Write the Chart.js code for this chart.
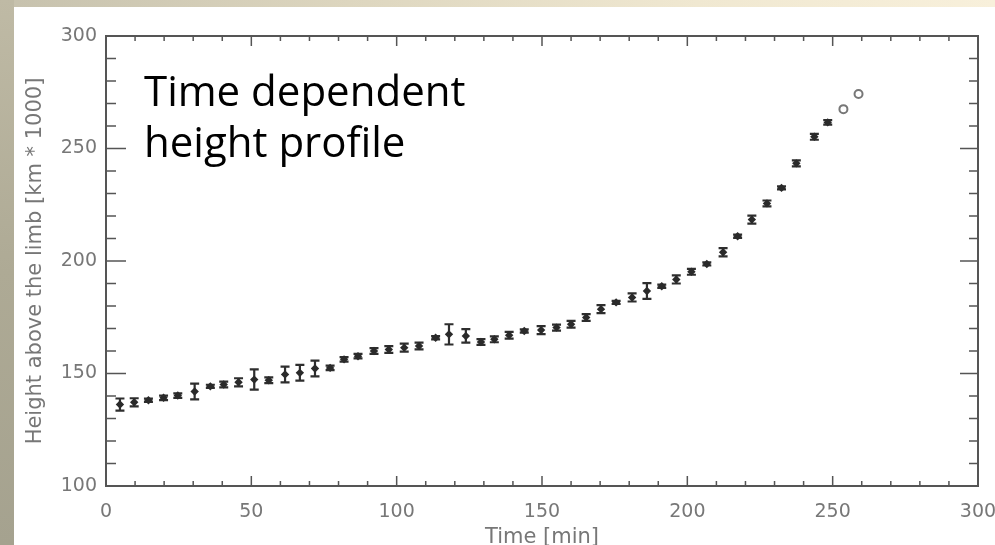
<!DOCTYPE html>
<html><head><meta charset="utf-8">
<script src="https://cdn.jsdelivr.net/npm/chart.js@4.4.1/dist/chart.umd.min.js"></script>
<style>
html,body{margin:0;padding:0;width:995px;height:545px;overflow:hidden;}
body{position:relative;background:linear-gradient(to right,#c6c1ad 0%,#ddd6bf 35%,#f0e8d1 70%,#f8f0db 100%);}
#leftstrip{position:absolute;left:0;top:0;width:14px;height:545px;background:linear-gradient(to bottom,#bfbaa5 0%,#aeaa95 50%,#a5a28f 100%);}
#panel{position:absolute;left:14px;top:7px;width:981px;height:538px;background:#fff;overflow:hidden;}
#chart{position:absolute;left:0;top:0;filter:blur(0.6px);}
#note{position:absolute;left:130px;top:57px;font-family:'Open Sans',sans-serif;font-size:42px;line-height:51px;color:#000;white-space:nowrap;}
</style>
</head><body>
<div id="leftstrip"></div>
<div id="panel">
<canvas id="chart" width="981" height="538"></canvas>
<div id="note">Time dependent<br>height profile</div>
</div>
<script>
// ---- data ----
const times = [4.8, 9.7, 14.6, 19.8, 24.7, 30.5, 35.9, 40.5, 45.6, 51.0, 56.0, 61.6, 66.7, 71.9, 77.1, 81.9, 86.7, 92.2, 97.3, 102.6, 107.7, 113.4, 118.0, 123.8, 129.0, 133.6, 138.7, 143.9, 149.7, 155.0, 160.0, 165.2, 170.3, 175.5, 181.0, 186.1, 191.2, 196.2, 201.4, 206.7, 212.3, 217.3, 222.2, 227.4, 232.4, 237.5, 243.7, 248.3];
const heights = [136.2, 137.2, 138.1, 139.2, 140.2, 142.0, 144.3, 145.1, 146.1, 147.3, 147.0, 149.6, 150.3, 152.2, 152.5, 156.3, 157.7, 160.0, 160.7, 161.5, 162.2, 165.9, 167.4, 166.7, 164.0, 165.2, 167.0, 168.9, 169.3, 170.4, 171.9, 174.9, 178.6, 181.6, 183.8, 186.7, 188.8, 191.8, 195.2, 198.7, 203.9, 211.0, 218.4, 225.6, 232.5, 243.4, 255.2, 261.6];
const errors = [2.7, 1.8, 0.7, 1, 1, 3.5, 0.7, 1.3, 1.8, 4.5, 1.3, 3.5, 3.5, 3.5, 1, 1, 1, 1.3, 1.5, 1.8, 1.5, 0.7, 4.5, 3, 1.3, 1.3, 1.5, 0.7, 1.8, 1.3, 1.5, 1.5, 1.8, 0.7, 1.8, 3.5, 0.7, 1.8, 1.3, 0.7, 1.8, 0.7, 1.8, 1.3, 0.7, 1.3, 1.3, 1];
const openTimes = [253.7, 258.9];
const openHeights = [267.5, 274.2];
const xTicks = [0, 50, 100, 150, 200, 250, 300];
const yTicks = [100, 150, 200, 250, 300];
const xTitle = 'Time [min]';
const yTitle = 'Height above the limb [km * 1000]';

const filledPts = times.map((t, i) => ({x: t, y: heights[i]}));
const openPts = openTimes.map((t, i) => ({x: t, y: openHeights[i]}));

const errorBars = {
  id: 'errorBars',
  beforeDatasetsDraw(chart) {
    const {ctx, scales: {x, y}} = chart;
    ctx.save();
    ctx.strokeStyle = '#2e2e2e';
    ctx.lineWidth = 2.2;
    times.forEach((t, i) => {
      const px = x.getPixelForValue(t);
      const top = y.getPixelForValue(heights[i] + errors[i]);
      const bot = y.getPixelForValue(heights[i] - errors[i]);
      ctx.beginPath();
      ctx.moveTo(px, top); ctx.lineTo(px, bot);
      ctx.moveTo(px - 4.5, top); ctx.lineTo(px + 4.5, top);
      ctx.moveTo(px - 4.5, bot); ctx.lineTo(px + 4.5, bot);
      ctx.stroke();
    });
    ctx.restore();
  }
};

const frameTicks = {
  id: 'frameTicks',
  afterDraw(chart) {
    const {ctx, chartArea: a, scales: {x, y}} = chart;
    ctx.save();
    ctx.strokeStyle = '#555';
    ctx.lineWidth = 2;
    ctx.strokeRect(a.left, a.top, a.right - a.left, a.bottom - a.top);
    ctx.lineWidth = 1.5;
    ctx.beginPath();
    for (let v = x.min; v <= x.max; v += 10) {
      const px = x.getPixelForValue(v);
      const major = v % 50 === 0;
      const len = major ? 10 : 5;
      ctx.moveTo(px, a.bottom); ctx.lineTo(px, a.bottom - len);
      ctx.moveTo(px, a.top); ctx.lineTo(px, a.top + len);
    }
    for (let v = y.min; v <= y.max; v += 10) {
      const py = y.getPixelForValue(v);
      const major = v % 50 === 0;
      ctx.moveTo(a.left, py); ctx.lineTo(a.left + (major ? 20 : 10), py);
      ctx.moveTo(a.right, py); ctx.lineTo(a.right - (major ? 18 : 9), py);
    }
    ctx.stroke();
    ctx.restore();
  }
};

const tickFont = {family: 'DejaVu Sans', size: 19};
const titleFont = {family: 'DejaVu Sans', size: 21};
new Chart(document.getElementById('chart'), {
  type: 'scatter',
  data: {
    datasets: [
      {data: filledPts, pointStyle: 'rectRot', pointRadius: 4.2, backgroundColor: '#2a2a2a', borderColor: '#2a2a2a', borderWidth: 0},
      {data: openPts, pointStyle: 'circle', pointRadius: 4, backgroundColor: '#fff', borderColor: '#777', borderWidth: 2}
    ]
  },
  options: {
    responsive: false,
    animation: false,
    devicePixelRatio: 1,
    layout: {padding: {top: 29, right: 17, left: 0, bottom: 0}},
    plugins: {legend: {display: false}, tooltip: {enabled: false}},
    scales: {
      x: {
        type: 'linear', min: 0, max: 300,
        afterBuildTicks: s => { s.ticks = xTicks.map(v => ({value: v})); },
        afterFit: s => { s.height = 59; s.paddingLeft = 0; s.paddingRight = 0; },
        grid: {display: false, drawTicks: false},
        border: {display: false},
        ticks: {color: '#777', font: tickFont, padding: 15, maxRotation: 0, autoSkip: false},
        title: {display: true, text: xTitle, color: '#777', font: titleFont, padding: {top: 0, bottom: -5}}
      },
      y: {
        type: 'linear', min: 100, max: 300,
        afterBuildTicks: s => { s.ticks = yTicks.map(v => ({value: v})); },
        afterFit: s => { s.width = 92; s.paddingTop = 0; s.paddingBottom = 0; },
        grid: {display: false, drawTicks: false},
        border: {display: false},
        ticks: {color: '#777', font: tickFont, padding: 9, autoSkip: false},
        title: {display: true, text: yTitle, color: '#777', font: titleFont, padding: {top: 9, bottom: 0}}
      }
    }
  },
  plugins: [errorBars, frameTicks]
});
</script>
</body></html>
